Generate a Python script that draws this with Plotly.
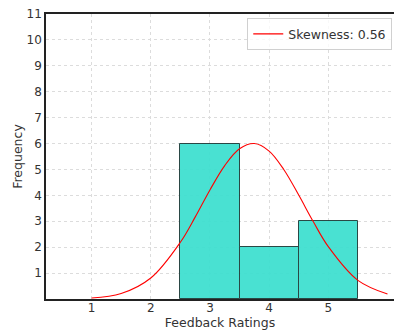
import plotly.graph_objects as go

# Histogram data (rating bins -> frequency)
ratings = [3, 4, 5]
freqs = [6, 2, 3]

# Fitted curve
curve_x = [1.0, 1.5, 2.0, 2.5, 2.75, 3.0, 3.25, 3.5, 3.75, 4.0, 4.25, 4.5, 4.75, 5.0, 5.5, 6.0]
curve_y = [0.04, 0.21, 0.81, 2.19, 3.16, 4.21, 5.15, 5.80, 6.0, 5.71, 4.99, 4.01, 2.97, 2.02, 0.72, 0.19]

x_ticks = [1, 2, 3, 4, 5]
y_ticks = list(range(1, 12))

font = "DejaVu Sans"
txt = "#333333"

fig = go.Figure()
fig.add_trace(go.Bar(
    x=ratings, y=freqs, width=1.0,
    marker=dict(color="#40E0D0", line=dict(color="#1f3f3c", width=1)),
    opacity=0.95, showlegend=False,
))
fig.add_trace(go.Scatter(
    x=curve_x, y=curve_y, mode="lines",
    line=dict(color="red", width=1.1, shape="spline", smoothing=1.0),
    name="Skewness: 0.56",
))

fig.update_layout(
    width=394, height=331,
    margin=dict(l=46, r=0, t=14, b=32),
    plot_bgcolor="white", paper_bgcolor="white",
    font=dict(family=font, size=12, color=txt),
    bargap=0,
    legend=dict(
        x=0.995, y=0.985, xanchor="right", yanchor="top",
        bgcolor="rgba(255,255,255,0.8)", bordercolor="#d0d0d0", borderwidth=1,
        font=dict(family=font, size=12.5, color=txt),
        itemwidth=30,
    ),
)
fig.update_xaxes(
    range=[0.23, 6.11], tickvals=x_ticks, ticktext=[str(v) for v in x_ticks],
    showgrid=True, gridcolor="#dcdcdc", griddash="dot", gridwidth=1,
    showline=True, linecolor="#222222", linewidth=1.5, mirror=True,
    ticks="", zeroline=False, ticklabelstandoff=-3,
    title=dict(text="Feedback Ratings", font=dict(size=12.5, family=font, color=txt), standoff=3),
    tickfont=dict(size=12, family=font, color=txt),
)
fig.update_yaxes(
    range=[0, 11], tickvals=y_ticks, ticktext=[str(v) for v in y_ticks],
    showgrid=True, gridcolor="#dcdcdc", griddash="dot", gridwidth=1,
    showline=True, linecolor="#222222", linewidth=1.5, mirror=False,
    ticks="", zeroline=False,
    title=dict(text="Frequency", font=dict(size=12.5, family=font, color=txt), standoff=1),
    tickfont=dict(size=12, family=font, color=txt),
)

fig.write_html("out.html")
